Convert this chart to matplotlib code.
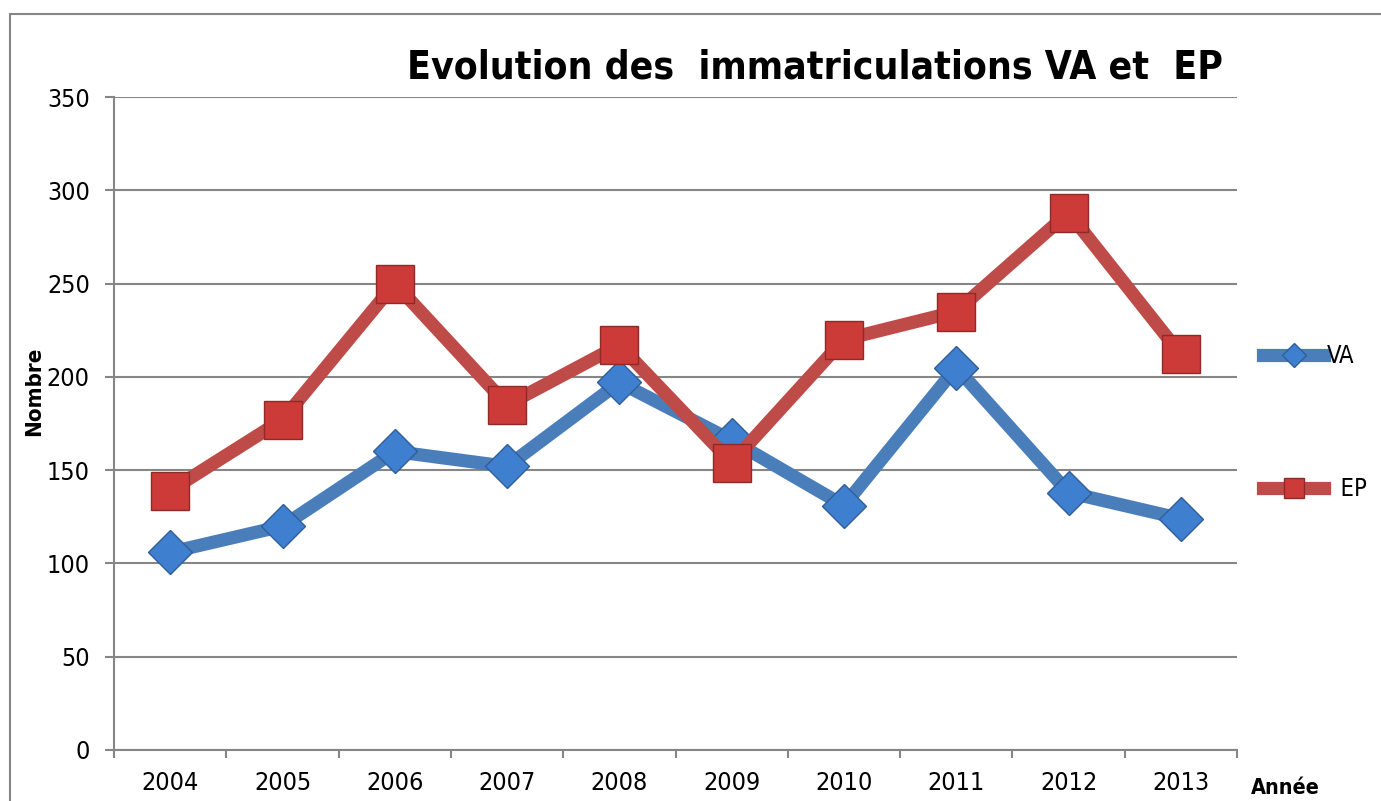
import matplotlib
matplotlib.use('Agg')
import matplotlib.pyplot as plt
from matplotlib.patches import Rectangle

plt.rcParams['font.family'] = ['DejaVu Sans']
plt.rcParams['font.stretch'] = 'condensed'

years = ['2004', '2005', '2006', '2007', '2008', '2009', '2010', '2011', '2012', '2013']
va = [106, 120, 160, 152, 197, 166, 131, 205, 138, 124]
ep = [139, 177, 250, 185, 217, 154, 220, 235, 288, 212]

grey = '#868686'

fig = plt.figure(figsize=(13.81, 8.01), dpi=100)
ax = fig.add_axes([0.0826, 0.0637, 0.8131, 0.8152])

x = list(range(len(years)))
ax.plot(x, va, color='#4A7EBB', lw=9.5, marker='D', markersize=22,
        markerfacecolor='#3F7FD0', markeredgecolor='#2F5E99', markeredgewidth=1,
        label='VA', zorder=3, solid_joinstyle='miter')
ax.plot(x, ep, color='#BE4B48', lw=9.5, marker='s', markersize=27,
        markerfacecolor='#CC3B37', markeredgecolor='#8E2A28', markeredgewidth=1,
        label='  EP', zorder=3, solid_joinstyle='miter')

ax.set_xlim(-0.5, len(years) - 0.5)
ax.set_ylim(0, 350)
ax.set_yticks(range(0, 351, 50))
ax.yaxis.grid(True, color=grey, lw=1.5)
ax.set_axisbelow(True)

# ticks between categories, labels centred on them
ax.set_xticks([i - 0.5 for i in range(len(years) + 1)])
ax.set_xticklabels([])
ax.set_xticks(x, minor=True)
ax.set_xticklabels(years, minor=True)
ax.tick_params(axis='x', which='major', length=6, width=1.5, color=grey)
ax.tick_params(axis='x', which='minor', length=0, pad=15, labelsize=18)
ax.tick_params(axis='y', length=6.5, width=1.5, color=grey, pad=11, labelsize=18)

for side in ['top', 'right']:
    ax.spines[side].set_visible(False)
for side in ['left', 'bottom']:
    ax.spines[side].set_color(grey)
    ax.spines[side].set_linewidth(1.5)

fig.text(0.59, 0.916, 'Evolution des  immatriculations VA et  EP',
         ha='center', va='center', fontsize=28, fontweight='bold')
fig.text(0.025, 0.512, 'Nombre', rotation=90, ha='center', va='center',
         fontsize=16, fontweight='bold')
fig.text(0.9055, 0.016, 'Année', ha='left', va='center',
         fontsize=15.5, fontweight='bold')

fig.legend(loc='center left', bbox_to_anchor=(0.9146, 0.4725), frameon=False,
           fontsize=17, labelspacing=4.6, handlelength=2.6, handletextpad=0.1,
           markerscale=0.55, borderpad=0, borderaxespad=0)

fig.patches.append(Rectangle((0.0072, -0.5), 1.5, 1.4825, transform=fig.transFigure,
                             fill=False, edgecolor=grey, lw=1.5))

fig.savefig('out.png', dpi=100)
